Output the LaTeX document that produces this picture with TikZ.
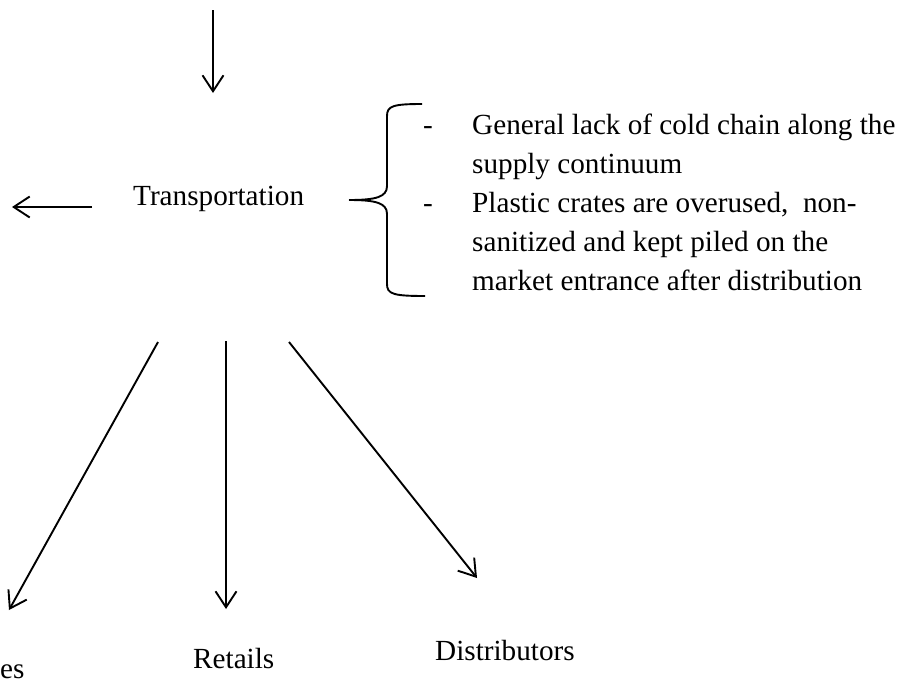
\documentclass[tikz,border=0pt]{standalone}
\usepackage{fontspec}
\setmainfont{Liberation Serif}
\usetikzlibrary{arrows.meta,positioning,calc}

\begin{document}
\begin{tikzpicture}[x=1pt, y=-1pt, every node/.style={font=\fontsize{29.2}{39}\selectfont, inner sep=0pt}, arr/.style={-{Straight Barb[length=16pt,width=21pt]}, line width=1.9pt}, brace/.style={line width=1.9pt}]
\useasboundingbox (0,0) rectangle (918,686);
\node[anchor=base west] (trans) at (133,205) {Transportation};
\node[anchor=base west, align=left] (issues) at (423,134) {\begin{tabular}[t]{@{}p{49pt}@{}l@{}}
- & General lack of cold chain along the\\
  & supply continuum\\
- & Plastic crates are overused,\ \ non-\\
  & sanitized and kept piled on the\\
  & market entrance after distribution
\end{tabular}};
\node[anchor=base west] (sales) at (0,678) {es};
\node[anchor=base west] (retails) at (193,668) {Retails};
\node[anchor=base west] (distrib) at (435,660) {Distributors};
% free ends
\coordinate (intop) at (213,10);
\coordinate (inend) at (213,93);
\coordinate (outleft) at (92,207);
\coordinate (outend) at (12,207);
\coordinate (brtip) at (349,200);
\coordinate (fromL) at (158,342);
\coordinate (toL) at (9,610);
\coordinate (fromM) at (226,341);
\coordinate (toM) at (226,609);
\coordinate (fromR) at (289,342);
\coordinate (toR) at (477,578);
\draw[arr] (intop)--(inend);
\draw[arr] (outleft)--(outend);
\draw[arr] (fromL)--(toL);
\draw[arr] (fromM)--(toM);
\draw[arr] (fromR)--(toR);
% brace
\draw[brace] (brtip) .. controls (376,200) and (387,197) .. (387,186) -- (387,116) .. controls (387,106) and (393,104) .. (422,104);
\draw[brace] (brtip) .. controls (376,200) and (387,203) .. (387,214) -- (387,284) .. controls (387,294) and (393,296) .. (425,296);
\end{tikzpicture}
\end{document}
